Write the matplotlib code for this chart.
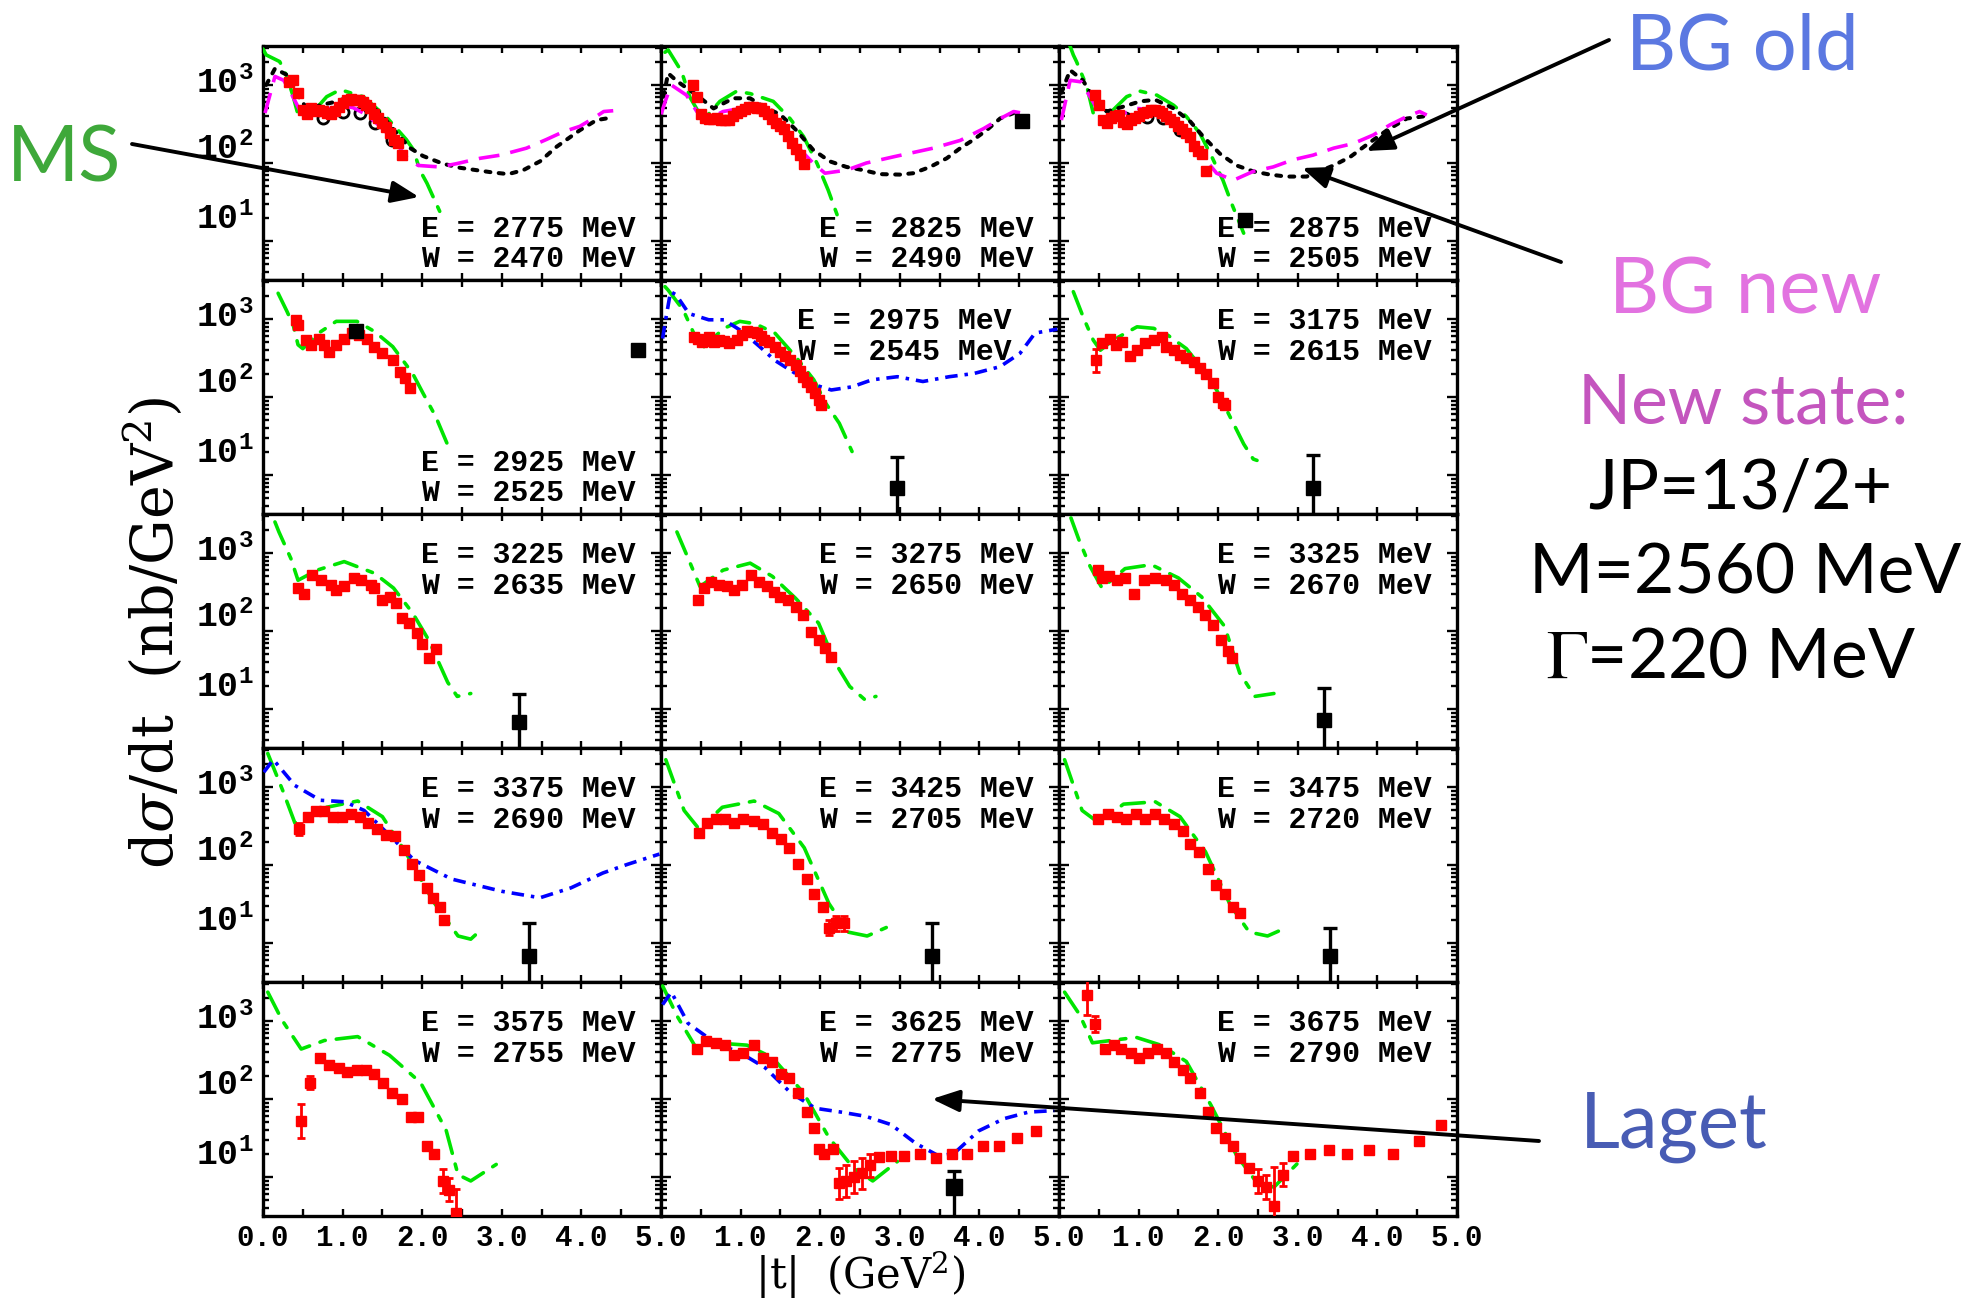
import numpy as np
import matplotlib
matplotlib.use('Agg')
import matplotlib.pyplot as plt
from matplotlib.patches import FancyArrowPatch
from matplotlib.ticker import MultipleLocator, LogLocator, NullFormatter, FixedLocator

plt.rcParams['mathtext.fontset'] = 'custom'
plt.rcParams['mathtext.rm'] = 'Liberation Mono:bold'
plt.rcParams['mathtext.it'] = 'Liberation Mono:bold'
plt.rcParams['mathtext.bf'] = 'Liberation Mono:bold'
plt.rcParams['lines.scale_dashes'] = False

# ---------------- data ----------------
E_MeV = [2775, 2825, 2875, 2925, 2975, 3175, 3225, 3275, 3325, 3375, 3425, 3475, 3575, 3625, 3675]
W_MeV = [2470, 2490, 2505, 2525, 2545, 2615, 2635, 2650, 2670, 2690, 2705, 2720, 2755, 2775, 2790]
x_tick_labels = ['0.0', '1.0', '2.0', '3.0', '4.0', '5.0']
y_tick_labels = ['$10^{3}$', '$10^{2}$', '$10^{1}$']

# panel 0 : E = 2775
p0_red_t = [0.33,0.38,0.44,0.50,0.55,0.60,0.65,0.70,0.75,0.80,0.85,0.90,0.95,1.00,1.05,1.10,1.15,1.20,1.25,1.30,1.35,1.40,1.45,1.50,1.55,1.60,1.65,1.70,1.75]
p0_red_y = [1100,1150,780,480,430,500,470,480,460,440,430,470,520,580,640,660,650,640,600,550,500,430,380,330,290,240,200,180,125]
p0_ms_t = [0.00,0.04,0.21,0.30,0.38,0.44,0.49,0.67,0.80,0.97,1.13,1.26,1.55,1.80,1.89,1.97,2.06,2.22]
p0_ms_y = [2900,2430,1995,1290,708,417,372,501,708,871,776,708,389,200,148,81,55,24]
p0_bgo_t = [0.04,0.15,0.30,0.42,0.55,0.72,0.93,1.09,1.26,1.47,1.68,1.85,2.01,2.26,2.47,2.68,2.87,3.08,3.27,3.48,3.69,3.98,4.19,4.40]
p0_bgo_y = [1000,1622,1349,776,501,550,617,708,646,437,240,155,123,98,87,81,76,72,81,105,162,263,355,385]
p0_bgn_t = [0.025,0.15,0.26,0.34,0.46,0.57,0.72,0.93,1.13,1.30,1.47,1.64,1.80,1.95,2.22,2.43,2.73,2.98,3.31,3.56,3.77,3.98,4.17,4.28,4.40]
p0_bgn_y = [437,1288,1148,832,479,417,437,550,513,417,295,200,120,93,89,98,115,126,155,200,251,295,385,457,468]
p0_circ_t = [0.76,1.01,1.22,1.41,1.62]
p0_circ_y = [372,457,437,324,195]

# panel 1 : E = 2825
p1_red_t = [0.40,0.45,0.50,0.55,0.60,0.65,0.70,0.75,0.80,0.85,0.90,0.95,1.00,1.05,1.10,1.15,1.20,1.25,1.30,1.35,1.40,1.45,1.50,1.55,1.60,1.65,1.70,1.75,1.80]
p1_red_y = [1000,710,420,380,370,370,380,360,355,360,400,435,460,490,525,525,510,500,470,420,370,330,295,270,225,180,150,125,98]
p1_ms_t = [0.05,0.09,0.26,0.36,0.53,0.74,0.95,1.12,1.41,1.62,1.79,1.96,2.10,2.25]
p1_ms_y = [2630,2818,1479,708,355,617,832,776,617,372,219,99,45,17]
p1_bgo_t = [0.03,0.09,0.20,0.45,0.66,0.91,1.12,1.29,1.50,1.70,1.91,2.12,2.33,2.54,2.75,3.00,3.17,3.38,3.59,3.76,3.92,4.09,4.26,4.43]
p1_bgo_y = [708,1413,1122,741,501,676,676,525,417,263,148,105,89,81,72,71,74,89,115,155,197,263,372,437]
p1_bgn_t = [0.00,0.06,0.13,0.32,0.45,0.57,0.78,1.12,1.33,1.54,1.75,1.91,2.06,2.33,2.58,2.92,3.42,3.76,4.05,4.30,4.43,4.53]
p1_bgn_y = [420,646,1000,741,457,355,457,525,437,263,148,100,74,81,100,120,155,195,275,389,457,437]
p1_sq_t = [4.53]
p1_sq_y = [347]

# panel 2 : E = 2875
p2_red_t = [0.45,0.50,0.55,0.60,0.65,0.70,0.75,0.80,0.85,0.90,0.95,1.00,1.05,1.10,1.15,1.20,1.25,1.30,1.35,1.40,1.45,1.50,1.55,1.60,1.65,1.70,1.75,1.80,1.85]
p2_red_y = [741,562,355,324,380,398,417,331,316,355,372,398,437,457,479,479,468,437,398,363,339,302,275,240,214,166,141,132,78]
p2_ms_t = [0.12,0.18,0.22,0.35,0.43,0.50,0.60,0.66,0.85,1.02,1.23,1.44,1.60,1.77,1.92,2.06,2.17,2.32]
p2_ms_y = [3548,2427,1995,955,437,347,372,457,708,832,741,550,394,240,120,60,30,12.6]
p2_bgo_t = [0.03,0.14,0.30,0.45,0.60,0.80,1.02,1.21,1.44,1.65,1.81,2.02,2.23,2.44,2.65,2.86,3.11,3.45,3.66,3.86,4.12,4.37,4.60]
p2_bgo_y = [794,1549,1148,631,457,525,617,646,501,339,219,132,93,78,71,67,67,93,120,170,263,372,398]
p2_bgn_t = [0.03,0.14,0.28,0.39,0.51,0.64,0.77,0.98,1.19,1.35,1.52,1.69,1.81,1.98,2.19,2.44,2.69,2.94,3.19,3.45,3.70,3.95,4.16,4.37,4.53,4.62]
p2_bgn_y = [355,1148,1096,708,437,389,417,501,479,372,263,170,120,74,60,78,89,110,126,155,178,229,309,394,457,412]
p2_circ_t = [0.83,1.10,1.31,1.52]
p2_circ_y = [372,389,372,263]
p2_sq_t = [2.34]
p2_sq_y = [18.6]

# panel 3 : E = 2925
p3_red_t = [0.41,0.44,0.54,0.60,0.70,0.77,0.83,0.92,1.02,1.12,1.21,1.31,1.40,1.50,1.63,1.72,1.79,1.85]
p3_red_y = [977,832,537,468,562,468,380,468,562,661,617,562,442,363,295,209,174,129]
p3_ms_t = [0.19,0.30,0.38,0.44,0.50,0.70,0.92,1.18,1.40,1.63,1.88,2.01,2.17,2.33]
p3_ms_y = [2138,1259,832,468,417,661,933,933,692,442,200,112,56,23]
p3_sq_t = [1.17, 4.71]
p3_sq_y = [710, 398]

# panel 4 : E = 2975
p4_red_t = [0.41,0.46,0.51,0.55,0.60,0.66,0.73,0.79,0.86,0.95,1.02,1.08,1.15,1.21,1.25,1.30,1.36,1.43,1.50,1.56,1.62,1.69,1.74,1.79,1.83,1.88,1.93,1.98,2.01]
p4_red_y = [589,550,513,525,589,501,537,525,490,537,631,692,676,661,603,537,501,442,380,331,295,257,214,182,158,135,112,91,79]
p4_ms_t = [0.05,0.09,0.28,0.41,0.54,0.79,0.99,1.18,1.43,1.69,1.92,2.07,2.24,2.40]
p4_ms_y = [2600,2344,1303,661,442,759,933,871,661,331,166,83,46,20]
p4_lag_t = [0.02,0.06,0.12,0.19,0.35,0.60,0.79,1.02,1.24,1.43,1.69,1.95,2.14,2.40,2.65,2.97,3.29,3.62,3.93,4.26,4.51,4.70,4.98]
p4_lag_y = [562,1000,2239,2042,1175,977,977,692,442,295,200,141,123,135,166,182,158,182,200,245,363,661,741]
p4_sq_t = [2.97]
p4_sq_y = [6.8]
p4_sq_up = [17.0]

# panel 5 : E = 3175
p5_red_t = [0.47,0.54,0.64,0.72,0.79,0.89,0.98,1.08,1.19,1.29,1.35,1.44,1.52,1.60,1.69,1.77,1.85,1.94,2.00,2.06,2.09]
p5_red_y = [295,490,562,468,513,331,398,490,537,589,442,398,347,316,282,234,200,151,100,83,79]
p5_ms_t = [0.18,0.31,0.43,0.52,0.68,0.98,1.19,1.37,1.60,1.81,1.98,2.19,2.32,2.44,2.52,2.61]
p5_ms_y = [2239,1023,537,398,537,794,759,617,417,224,123,46,25,16,15,15]
p5_sq_t = [3.19]
p5_sq_y = [6.9]
p5_sq_up = [18.2]

# panel 6 : E = 3225
p6_red_t = [0.44,0.52,0.62,0.73,0.85,0.92,1.02,1.14,1.23,1.36,1.40,1.50,1.60,1.67,1.74,1.84,1.93,2.00,2.08,2.17]
p6_red_y = [355,302,525,447,389,339,372,479,447,389,355,251,275,229,145,126,93,69,45,58]
p6_ms_t = [0.15,0.20,0.35,0.44,0.68,1.02,1.40,1.64,1.88,2.08,2.32,2.44,2.61]
p6_ms_y = [2500,1862,851,447,603,776,550,355,170,77,22,14.5,15.8]
p6_sq_t = [3.21]
p6_sq_y = [6.9]
p6_sq_up = [15.8]

# panel 7 : E = 3275
p7_red_t = [0.46,0.54,0.63,0.73,0.83,0.92,1.02,1.13,1.23,1.33,1.42,1.50,1.60,1.69,1.79,1.88,1.98,2.06,2.13]
p7_red_y = [251,355,427,389,372,339,389,525,427,372,320,275,251,204,162,98,77,60,47]
p7_ms_t = [0.20,0.35,0.49,0.78,1.12,1.40,1.69,1.98,2.19,2.37,2.56,2.70]
p7_ms_y = [1862,813,372,603,741,501,263,126,39,19.5,13.2,14.5]

# panel 8 : E = 3325
p8_red_t = [0.49,0.54,0.63,0.73,0.83,0.94,1.07,1.21,1.35,1.45,1.55,1.64,1.74,1.83,1.93,2.03,2.12,2.17]
p8_red_y = [603,479,501,452,479,302,452,479,452,389,302,251,204,162,120,77,55,45]
p8_ms_t = [0.15,0.25,0.39,0.54,0.83,1.16,1.50,1.79,2.08,2.27,2.46,2.70]
p8_ms_y = [2818,1479,676,355,631,708,479,275,115,29,14.5,15.8]
p8_sq_t = [3.33]
p8_sq_y = [7.2]
p8_sq_up = [18.6]

# panel 9 : E = 3375
p9_red_t = [0.45,0.56,0.67,0.77,0.88,0.99,1.11,1.22,1.32,1.43,1.55,1.66,1.77,1.87,1.96,2.06,2.14,2.22,2.28]
p9_red_y = [288,417,490,490,417,417,457,417,347,288,240,234,158,102,74,51,38,29,20]
p9_ms_t = [0.06,0.25,0.40,0.55,0.80,1.19,1.50,1.80,2.14,2.45,2.61,2.74]
p9_ms_y = [2692,891,347,380,550,661,417,141,34,12.3,11.2,14.8]
p9_lag_t = [0.01,0.13,0.40,0.72,1.03,1.27,1.59,1.90,2.37,3.00,3.48,3.87,4.27,4.58,4.98]
p9_lag_y = [1549,2239,1047,676,646,501,240,115,66,46,38,51,79,102,138]
p9_sq_t = [3.34]
p9_sq_y = [6.9]
p9_sq_up = [17.8]

# panel 10 : E = 3425
p10_red_t = [0.48,0.58,0.69,0.81,0.92,1.03,1.17,1.28,1.40,1.51,1.61,1.72,1.83,1.92,2.03,2.11,2.20,2.30]
p10_red_y = [257,347,389,389,347,389,363,339,257,214,166,102,66,42,29,15.8,17.8,17.8]
p10_ms_t = [0.06,0.29,0.48,0.77,1.17,1.48,1.80,2.11,2.35,2.59,2.83]
p10_ms_y = [2239,501,288,550,661,457,166,32,13.8,12.3,15.8]
p10_sq_t = [3.41]
p10_sq_y = [6.9]
p10_sq_up = [17.8]

# panel 11 : E = 3475
p11_red_t = [0.49,0.61,0.73,0.84,0.97,1.08,1.21,1.32,1.45,1.56,1.65,1.76,1.87,1.97,2.08,2.19,2.28]
p11_red_y = [389,457,417,389,457,389,457,389,339,269,186,148,89,55,43,29,24]
p11_ms_t = [0.07,0.29,0.50,0.81,1.21,1.52,1.84,2.15,2.39,2.62,2.86]
p11_ms_y = [2239,501,347,603,646,417,148,31,13.8,12.3,15.8]
p11_sq_t = [3.40]
p11_sq_y = [6.9]
p11_sq_up = [15.8]

# panel 12 : E = 3575
p12_red_t = [0.48,0.59,0.72,0.83,0.95,1.06,1.18,1.29,1.40,1.51,1.62,1.74,1.86,1.95,2.06,2.15,2.26,2.34,2.42]
p12_red_y = [52,162,339,269,251,224,234,234,209,162,120,100,58,58,25,20,8.9,6.9,3.5]
p12_ms_t = [0.06,0.24,0.48,0.77,1.19,1.59,1.98,2.30,2.45,2.61,2.93]
p12_ms_y = [2344,1023,437,562,631,363,162,40,10.7,8.9,14.5]

# panel 13 : E = 3625
p13_red_t = [0.45,0.56,0.69,0.81,0.92,1.03,1.17,1.28,1.40,1.51,1.61,1.72,1.83,1.92,1.99,2.05,2.16,2.24,2.32,2.42,2.52,2.63,2.74,2.89,3.05,3.26,3.45,3.65,3.84,4.05,4.25,4.47,4.71]
p13_red_y = [437,562,525,490,363,389,490,339,302,209,186,120,69,43,23,20,23,8.3,8.9,10,11.2,14.1,17.8,18.6,18.6,20,17.4,20,20,25,25,32,39]
p13_ms_t = [0.02,0.21,0.45,0.68,1.08,1.40,1.79,2.11,2.42,2.66,2.97]
p13_ms_y = [2818,1122,437,525,490,339,120,32,12.9,8.9,15.8]
p13_lag_t = [0.02,0.13,0.34,0.68,1.00,1.31,1.63,1.94,2.26,2.57,2.89,3.20,3.49,3.68,3.99,4.31,4.62,4.94]
p13_lag_y = [1622,2344,933,525,389,251,120,76,68,60,47,27,18.6,20,39,56,68,71]
p13_sq_t = [3.68]
p13_sq_y = [7.4]
p13_sq_up = [12.0]

# panel 14 : E = 3675
p14_red_t = [0.35,0.45,0.58,0.69,0.78,0.90,1.01,1.12,1.23,1.34,1.45,1.56,1.65,1.77,1.87,1.97,2.08,2.19,2.28,2.39,2.50,2.60,2.70,2.82,2.94,3.15,3.39,3.62,3.89,4.20,4.52,4.80]
p14_red_y = [2138,912,437,490,437,389,339,389,437,389,302,234,186,120,69,43,32,25,17.4,12.9,8.9,7.4,4.3,10.7,18.6,20,21.9,20,22.4,20,28.8,46.8]
p14_ms_t = [0.07,0.26,0.42,0.65,0.97,1.28,1.60,1.91,2.23,2.47,2.70,3.02]
p14_ms_y = [2344,1202,525,562,617,490,302,83,19,8.9,7.4,15.8]

# large (log10 half-width) errors on individual red points; others use the default
red_big_err = {
    5: {0: 0.15},
    9: {0: 0.08},
    10: {15: 0.1, 16: 0.1, 17: 0.1},
    12: {0: 0.22, 1: 0.08, 16: 0.15, 17: 0.15, 18: 0.3},
    13: {17: 0.2, 18: 0.2, 19: 0.2, 20: 0.2, 21: 0.15},
    14: {0: 0.25, 1: 0.1, 20: 0.15, 21: 0.15, 22: 0.5, 23: 0.15},
}
RED_ERR_DEFAULT = 0.045

panels = [
    dict(red=(p0_red_t, p0_red_y), ms=(p0_ms_t, p0_ms_y), bgo=(p0_bgo_t, p0_bgo_y), bgn=(p0_bgn_t, p0_bgn_y), circ=(p0_circ_t, p0_circ_y)),
    dict(red=(p1_red_t, p1_red_y), ms=(p1_ms_t, p1_ms_y), bgo=(p1_bgo_t, p1_bgo_y), bgn=(p1_bgn_t, p1_bgn_y), sq=(p1_sq_t, p1_sq_y, None)),
    dict(red=(p2_red_t, p2_red_y), ms=(p2_ms_t, p2_ms_y), bgo=(p2_bgo_t, p2_bgo_y), bgn=(p2_bgn_t, p2_bgn_y), circ=(p2_circ_t, p2_circ_y), sq=(p2_sq_t, p2_sq_y, None)),
    dict(red=(p3_red_t, p3_red_y), ms=(p3_ms_t, p3_ms_y), sq=(p3_sq_t, p3_sq_y, None)),
    dict(red=(p4_red_t, p4_red_y), ms=(p4_ms_t, p4_ms_y), lag=(p4_lag_t, p4_lag_y), sq=(p4_sq_t, p4_sq_y, p4_sq_up)),
    dict(red=(p5_red_t, p5_red_y), ms=(p5_ms_t, p5_ms_y), sq=(p5_sq_t, p5_sq_y, p5_sq_up)),
    dict(red=(p6_red_t, p6_red_y), ms=(p6_ms_t, p6_ms_y), sq=(p6_sq_t, p6_sq_y, p6_sq_up)),
    dict(red=(p7_red_t, p7_red_y), ms=(p7_ms_t, p7_ms_y)),
    dict(red=(p8_red_t, p8_red_y), ms=(p8_ms_t, p8_ms_y), sq=(p8_sq_t, p8_sq_y, p8_sq_up)),
    dict(red=(p9_red_t, p9_red_y), ms=(p9_ms_t, p9_ms_y), lag=(p9_lag_t, p9_lag_y), sq=(p9_sq_t, p9_sq_y, p9_sq_up)),
    dict(red=(p10_red_t, p10_red_y), ms=(p10_ms_t, p10_ms_y), sq=(p10_sq_t, p10_sq_y, p10_sq_up)),
    dict(red=(p11_red_t, p11_red_y), ms=(p11_ms_t, p11_ms_y), sq=(p11_sq_t, p11_sq_y, p11_sq_up)),
    dict(red=(p12_red_t, p12_red_y), ms=(p12_ms_t, p12_ms_y)),
    dict(red=(p13_red_t, p13_red_y), ms=(p13_ms_t, p13_ms_y), lag=(p13_lag_t, p13_lag_y), sq=(p13_sq_t, p13_sq_y, p13_sq_up)),
    dict(red=(p14_red_t, p14_red_y), ms=(p14_ms_t, p14_ms_y)),
]

# ---------------- layout ----------------
W_PX, H_PX = 1969, 1304
fig = plt.figure(figsize=(W_PX / 100, H_PX / 100), dpi=100)
LEFT, TOP, PW, PH = 263, 46, 398, 234


def fx(x):
    return x / W_PX


def fy(y):
    return 1 - y / H_PX


MONO = 'Liberation Mono'
GREEN = '#00e400'

for i, p in enumerate(panels):
    r, c = divmod(i, 3)
    ax = fig.add_axes([fx(LEFT + c * PW), fy(TOP + (r + 1) * PH), PW / W_PX, PH / H_PX])
    ax.set_yscale('log')
    ax.set_xlim(0, 5)
    ax.set_ylim(10 ** 0.5, 10 ** 3.5)
    for s in ax.spines.values():
        s.set_linewidth(2.4)

    # theory curves
    t, y = p['ms']
    ax.plot(t, y, color=GREEN, lw=2.6, dashes=(17, 8, 4, 8), zorder=3, solid_capstyle='butt',
            dash_capstyle='round')
    if 'bgo' in p:
        t, y = p['bgo']
        ax.plot(t, y, color='black', lw=2.9, dashes=(3.5, 6), zorder=3, dash_capstyle='round')
    if 'bgn' in p:
        t, y = p['bgn']
        ax.plot(t, y, color='#ff00ff', lw=2.6, dashes=(15, 8), zorder=3)
    if 'lag' in p:
        t, y = p['lag']
        ax.plot(t, y, color='#0000ff', lw=2.6, dashes=(9, 5, 2.5, 5), zorder=3)
    if 'circ' in p:
        t, y = p['circ']
        ax.plot(t, y, 'o', ms=8, mfc='none', mec='black', mew=2, zorder=2)

    # red data
    t, y = p['red']
    y = np.asarray(y, float)
    e = np.full(len(y), RED_ERR_DEFAULT)
    for k, v in red_big_err.get(i, {}).items():
        e[k] = v
    lo = y - y / 10 ** e
    hi = y * 10 ** e - y
    ax.errorbar(t, y, yerr=[lo, hi], fmt='s', ms=6.5, color='#ff0000', ecolor='#ff0000',
                elinewidth=2.0, capsize=3, capthick=2.0, zorder=5)

    # black squares
    if 'sq' in p:
        t, y, up = p['sq']
        y = np.asarray(y, float)
        if up is None:
            ax.plot(t, y, 's', ms=9.5, color='black', zorder=6)
        else:
            up = np.asarray(up, float)
            ax.errorbar(t, y, yerr=[y - 1.0, up - y], fmt='s', ms=9.5 if i != 13 else 12,
                        color='black', ecolor='black', elinewidth=2.4, capsize=5, capthick=2.4,
                        zorder=6)

    # ticks
    ax.xaxis.set_major_locator(MultipleLocator(1.0))
    ax.xaxis.set_minor_locator(MultipleLocator(0.5))
    ax.yaxis.set_major_locator(FixedLocator([10, 100, 1000]))
    ax.yaxis.set_minor_locator(LogLocator(base=10, subs=np.arange(2, 10), numticks=20))
    ax.yaxis.set_major_formatter(NullFormatter())
    ax.yaxis.set_minor_formatter(NullFormatter())
    ax.tick_params(which='both', direction='in', top=True, bottom=True, left=True, right=True,
                   width=1.7, labelleft=False)
    ax.tick_params(axis='x', which='major', length=5)
    ax.tick_params(axis='x', which='minor', length=5)
    ax.tick_params(axis='y', which='major', length=7)
    ax.tick_params(axis='y', which='minor', length=4)

    if r == 4:
        labels = list(x_tick_labels)
        if c > 0:
            labels[0] = ''
        ax.set_xticks([0, 1, 2, 3, 4, 5])
        ax.set_xticklabels(labels, fontfamily=MONO, fontweight='bold', fontsize=21)
        ax.tick_params(axis='x', which='major', pad=6)
    else:
        ax.tick_params(axis='x', labelbottom=False)

    if c == 0:
        for lab, pos in zip(y_tick_labels, [10 ** 3.02, 10 ** 2.18, 10 ** 1.28]):
            ax.text(-0.025, pos, lab, transform=ax.get_yaxis_transform(), ha='right', va='center',
                    fontsize=25, math_fontfamily='custom')

    # energy labels
    if i <= 3:
        y1, y2 = 0.185, 0.055
    else:
        y1, y2 = 0.79, 0.66
    xr = 0.88 if i == 4 else 0.937
    ax.text(xr, y1, f'E = {E_MeV[i]} MeV', transform=ax.transAxes, ha='right', va='baseline',
            fontfamily=MONO, fontweight='bold', fontsize=21.5, zorder=7)
    ax.text(xr, y2, f'W = {W_MeV[i]} MeV', transform=ax.transAxes, ha='right', va='baseline',
            fontfamily=MONO, fontweight='bold', fontsize=21.5, zorder=7)

# axis titles
fig.text(fx(153), fy(633), r'd$\sigma$/dt  (nb/GeV$^2$)', rotation=90, ha='center', va='center',
         fontsize=41, family='DejaVu Serif', math_fontfamily='dejavuserif')
fig.text(fx(860), fy(1301), r'|t|  (GeV$^2$)', ha='center', va='bottom',
         fontsize=30, family='DejaVu Serif', math_fontfamily='dejavuserif')

# annotations
SANS = 'Lato'


def ftext(x, y, s, color, size, ha='center', **kw):
    fig.text(fx(x), fy(y), s, color=color, fontsize=size, ha=ha, va='baseline', family=SANS, **kw)


def arrow(p0, p1):
    a = FancyArrowPatch((fx(p0[0]), fy(p0[1])), (fx(p1[0]), fy(p1[1])), transform=fig.transFigure,
                        arrowstyle='-|>,head_length=0.55,head_width=0.22', mutation_scale=30,
                        lw=2.8, color='black', shrinkA=0, shrinkB=0)
    fig.add_artist(a)


ftext(64, 182, 'MS', '#3ea83a', 56)
ftext(1742, 70, 'BG old', '#5b78e1', 56)
ftext(1745, 313, 'BG new', '#e272e0', 56)
ftext(1743, 423, 'New state:', '#c455be', 50)
ftext(1740, 508, 'JP=13/2+', 'black', 50)
ftext(1745, 593, 'M=2560 MeV', 'black', 50)
ftext(1731, 678, r'$\Gamma$=220 MeV', 'black', 50, math_fontfamily='stix')
ftext(1580, 1148, 'Laget', '#485cb4', 56, ha='left')

arrow((132, 144), (419, 197))
arrow((1609, 40), (1366, 151))
arrow((1561, 262), (1302, 168))
arrow((1539, 1141), (932, 1099))

fig.savefig('out.png', dpi=100)
